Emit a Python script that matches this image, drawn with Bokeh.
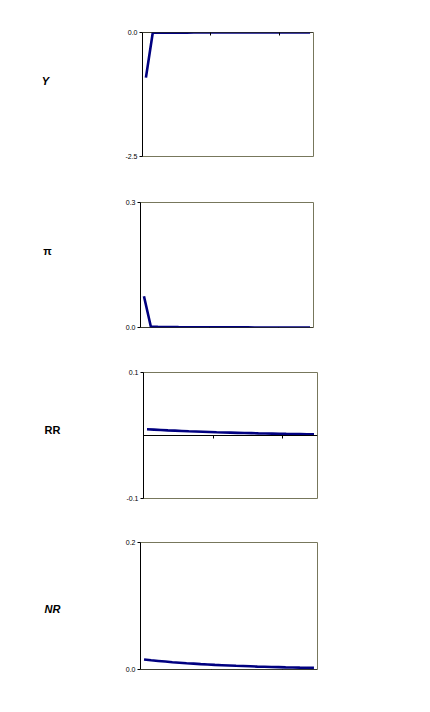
from bokeh.plotting import figure
from bokeh.layouts import column, row
from bokeh.models import FixedTicker, PrintfTickFormatter, Label, Range1d
from bokeh.embed import file_html
from bokeh.resources import INLINE

# ---- data ----
periods = [i + 0.5 for i in range(25)]
x_ticks = [10, 20]

y_vals = [-0.91, -0.004, -0.003, -0.003, -0.002, -0.002, -0.002, -0.001, -0.001, -0.001,
          -0.001, -0.001, -0.001, -0.001, 0.0, 0.0, 0.0, 0.0, 0.0, 0.0,
          0.0, 0.0, 0.0, 0.0, 0.0]
pi_vals = [0.075, 0.002, 0.0015, 0.0012, 0.001, 0.0008, 0.0007, 0.0006, 0.0005, 0.0004,
           0.0004, 0.0003, 0.0003, 0.0002, 0.0002, 0.0002, 0.0001, 0.0001, 0.0001, 0.0001,
           0.0, 0.0, 0.0, 0.0, 0.0]
rr_vals = [0.0100, 0.0094, 0.0088, 0.0082, 0.0077, 0.0072, 0.0067, 0.0063, 0.0059, 0.0055,
           0.0051, 0.0048, 0.0045, 0.0042, 0.0039, 0.0037, 0.0034, 0.0032, 0.0030, 0.0028,
           0.0026, 0.0025, 0.0023, 0.0021, 0.0020]
nr_vals = [0.0157, 0.0145, 0.0135, 0.0125, 0.0115, 0.0107, 0.0099, 0.0092, 0.0085, 0.0079,
           0.0073, 0.0068, 0.0063, 0.0058, 0.0054, 0.0050, 0.0046, 0.0043, 0.0040, 0.0037,
           0.0034, 0.0032, 0.0029, 0.0027, 0.0025]

panel_names = ["Y", "π", "RR", "NR"]
panel_italic = [True, False, False, True]
y_ranges = [(-2.5, 0.0), (0.0, 0.3), (-0.1, 0.1), (0.0, 0.2)]
series = [y_vals, pi_vals, rr_vals, nr_vals]

# layout / style (not data)
LABEL_W = 110
lefts = [32, 30, 33, 30]
rights = [17, 17, 13, 13]
bottoms = [14, 13, 12, 11]
label_pos = [(45, 80), (47, 250), (52, 429), (52, 608)]  # pixel positions in label column

FONT = "Liberation Sans"
LINE = "#000080"
BORDER = "#77775c"

# left column holding the panel names
lab = figure(width=LABEL_W, height=680, output_backend="svg", toolbar_location=None,
             x_range=Range1d(0, LABEL_W), y_range=Range1d(680, 0),
             x_axis_type=None, y_axis_type=None,
             min_border_left=0, min_border_right=0, min_border_top=0, min_border_bottom=0)
lab.grid.visible = False
lab.outline_line_color = None
lab.background_fill_color = "white"
lab.border_fill_color = "white"
for i in range(4):
    lx, ly = label_pos[i]
    lab.add_layout(Label(x=lx, y=ly, text=panel_names[i], text_font=FONT,
                         text_font_size="11px",
                         text_font_style="bold italic" if panel_italic[i] else "bold",
                         text_align="center", text_baseline="middle", text_color="black"))

figs = []
for i in range(4):
    lo, hi = y_ranges[i]
    p = figure(width=330 - LABEL_W, height=170, output_backend="svg", toolbar_location=None,
               x_range=Range1d(0, 25), y_range=Range1d(lo, hi),
               min_border_left=lefts[i], min_border_right=rights[i],
               min_border_top=32, min_border_bottom=bottoms[i])
    p.grid.visible = False
    p.background_fill_color = "white"
    p.border_fill_color = "white"
    p.outline_line_color = BORDER
    p.outline_line_width = 1

    p.line(periods, series[i], line_color=LINE, line_width=2.6)

    xa = p.xaxis[0]
    xa.fixed_location = 0
    xa.ticker = FixedTicker(ticks=x_ticks)
    xa.major_label_overrides = {10: "", 20: ""}
    xa.major_tick_out = 3
    xa.major_tick_in = 0
    xa.minor_tick_out = 0
    xa.minor_tick_in = 0
    xa.axis_line_color = "black"
    xa.major_tick_line_color = "black"
    xa.major_label_text_font_size = "1px"

    ya = p.yaxis[0]
    ya.ticker = FixedTicker(ticks=[lo, hi])
    ya.formatter = PrintfTickFormatter(format="%.1f")
    ya.major_tick_out = 3
    ya.major_tick_in = 0
    ya.minor_tick_out = 0
    ya.minor_tick_in = 0
    ya.major_label_standoff = 2
    ya.major_label_text_font = FONT
    ya.major_label_text_font_size = "7px"
    ya.major_label_text_color = "black"
    ya.axis_line_color = "black"
    figs.append(row(p, spacing=0))

layout = row(lab, column(*figs, spacing=0), spacing=0)
open("out.html", "w").write(file_html(layout, INLINE))
